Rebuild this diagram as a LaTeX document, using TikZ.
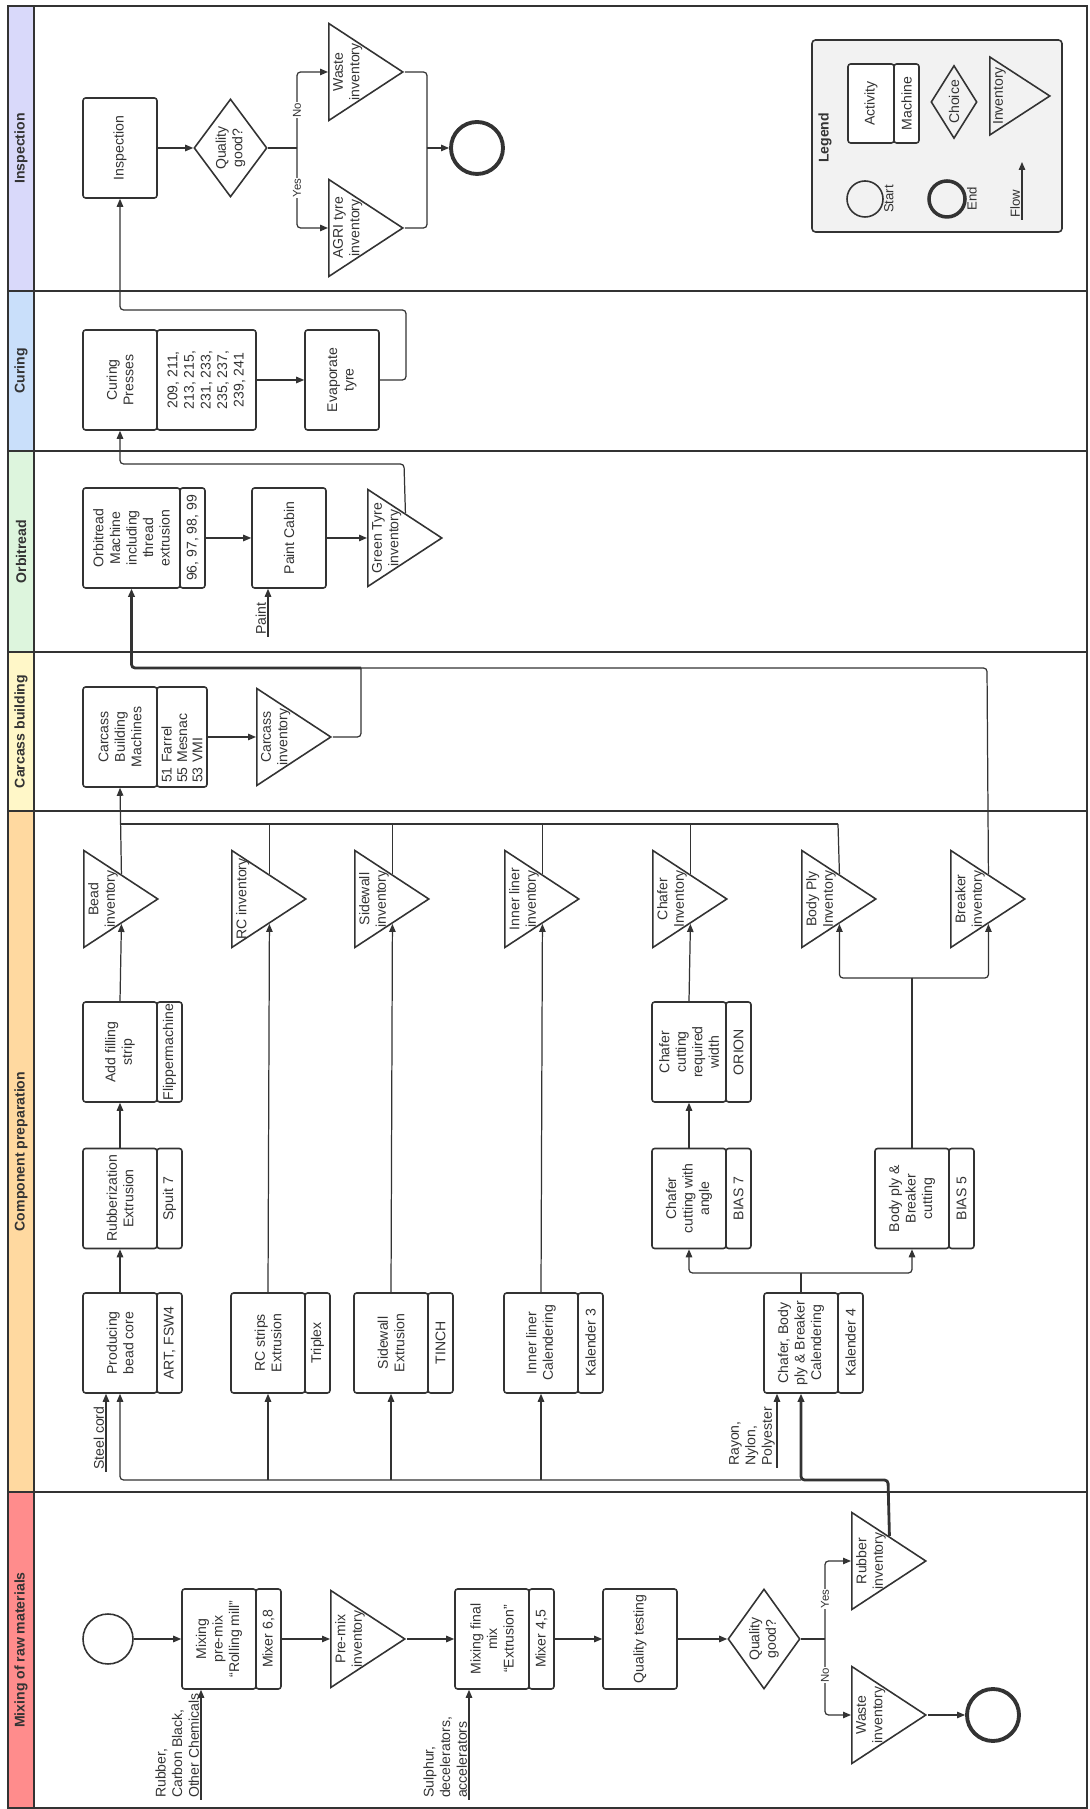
\documentclass[tikz,border=0pt]{standalone}
\usepackage{fontspec}
\setmainfont{Liberation Sans}
\usetikzlibrary{shapes.geometric,arrows.meta}

\definecolor{linecol}{HTML}{333333}
\definecolor{mixcol}{HTML}{FF8C8C}
\definecolor{compcol}{HTML}{FFD9A0}
\definecolor{carccol}{HTML}{FFF7C8}
\definecolor{orbcol}{HTML}{DDF5DD}
\definecolor{curcol}{HTML}{C9DFFA}
\definecolor{inspcol}{HTML}{D9D9FA}
\definecolor{legcol}{HTML}{F2F2F2}

\tikzset{
  lanebox/.style={draw=linecol, line width=0.8pt},
  headtext/.style={font=\fontsize{8}{9.4}\selectfont\bfseries},
  actbox/.style={draw=linecol, line width=0.9pt, rounded corners=1.5pt, fill=white,
    minimum width=20mm, minimum height=14.8mm, inner sep=1pt, align=center},
  machbox/.style={actbox, minimum height=5mm},
  invtri/.style={draw=linecol, line width=0.9pt, isosceles triangle,
    isosceles triangle stretches, shape border rotate=270,
    minimum width=19.4mm, minimum height=14.8mm, inner sep=0pt},
  invtext/.style={anchor=north, align=center, inner sep=1pt},
  choicebox/.style={draw=linecol, line width=0.9pt, diamond, aspect=1.4,
    minimum width=20mm, minimum height=14.4mm, inner sep=0pt, align=center},
  startcirc/.style={draw=linecol, line width=0.9pt, circle, minimum size=10mm},
  endcirc/.style={draw=linecol, line width=2.2pt, circle, minimum size=10.4mm},
  intext/.style={anchor=south west, align=left, inner sep=1pt},
  flowline/.style={draw=linecol, line width=0.7pt, rounded corners=2pt,
    -{Triangle[length=1.6mm,width=1.3mm]}},
  thickflow/.style={flowline, line width=1.6pt},
  plainline/.style={draw=linecol, line width=0.7pt, rounded corners=2pt},
  thickline/.style={plainline, line width=1.6pt},
  branchtext/.style={fill=white, inner sep=0.5pt, font=\fontsize{6.5}{7}\selectfont},
  smalltext/.style={inner sep=0pt, font=\fontsize{7.5}{8}\selectfont},
}

\begin{document}
\begin{tikzpicture}[font=\fontsize{8}{9.4}\selectfont, text=linecol]
\begin{scope}[rotate=90, transform shape, x=0.2mm, y=-0.2mm]
\useasboundingbox (0,0) rectangle (1809,1089);

% Lanes
\draw[lanebox] (1,8) rectangle (317,1087);
\draw[lanebox] (317,8) rectangle (998,1087);
\draw[lanebox] (998,8) rectangle (1157,1087);
\draw[lanebox] (1157,8) rectangle (1358,1087);
\draw[lanebox] (1358,8) rectangle (1518,1087);
\draw[lanebox] (1518,8) rectangle (1803,1087);
\draw[lanebox, fill=mixcol] (1,8) rectangle (317,34);
\draw[lanebox, fill=compcol] (317,8) rectangle (998,34);
\draw[lanebox, fill=carccol] (998,8) rectangle (1157,34);
\draw[lanebox, fill=orbcol] (1157,8) rectangle (1358,34);
\draw[lanebox, fill=curcol] (1358,8) rectangle (1518,34);
\draw[lanebox, fill=inspcol] (1518,8) rectangle (1803,34);
\node[headtext] (hmix) at (159,21) {Mixing of raw materials};
\node[headtext] (hcomp) at (657.5,21) {Component preparation};
\node[headtext] (hcarc) at (1077.5,21) {Carcass building};
\node[headtext] (horb) at (1257.5,21) {Orbitread};
\node[headtext] (hcur) at (1438,21) {Curing};
\node[headtext] (hinsp) at (1660.5,21) {Inspection};

% Mixing of raw materials
\node[startcirc] (mstart) at (170,108) {};
\node[actbox] (mpre) at (170,219) {Mixing\\pre-mix\\``Rolling mill''};
\node[machbox] (mpremach) at (170,268.5) {Mixer 6,8};
\node[invtri, anchor=lower side] (mpreinv) at (170,330) {};
\node[invtext] (mpreinvt) at (170,333) {Pre-mix\\inventory};
\node[actbox] (mfinal) at (170,492) {Mixing final\\mix\\``Extrusion''};
\node[machbox] (mfinalmach) at (170,541.5) {Mixer 4,5};
\node[actbox] (mtest) at (170,640) {Quality testing};
\node[choicebox] (mgood) at (170,764) {Quality\\good?};
\coordinate (mjunc) at (170,825);
\node[invtri, anchor=lower side] (mrubinv) at (248,851) {};
\node[invtext] (mrubinvt) at (248,854) {Rubber\\inventory};
\node[invtri, anchor=lower side] (mwasteinv) at (94,851) {};
\node[invtext] (mwasteinvt) at (94,854) {Waste\\inventory};
\node[endcirc] (mend) at (94,993) {};
\node[intext] (rubberin) at (9,201) {Rubber,\\Carbon Black,\\Other Chemicals};
\node[intext] (sulphurin) at (9,469) {Sulphur,\\decelerators,\\accelerators};

\draw[flowline] (mstart) -- (mpre);
\draw[flowline] (mpremach) -- (mpreinv.lower side);
\draw[flowline] (mpreinv.apex) -- (mfinal);
\draw[flowline] (mfinalmach) -- (mtest);
\draw[flowline] (mtest) -- (mgood);
\draw[plainline] (mgood.south) -- (mjunc);
\draw[flowline] (mjunc) -| (mrubinv.lower side);
\draw[flowline] (mjunc) -| (mwasteinv.lower side);
\draw[flowline] (mwasteinv.apex) -- (mend);
\draw[flowline] (rubberin.south west) -- (rubberin.south west -| mpre.west);
\draw[flowline] (sulphurin.south west) -- (sulphurin.south west -| mfinal.west);
\node[branchtext] (myes) at (210,825) {Yes};
\node[branchtext] (mno) at (134,825) {No};

% Component preparation
\node[actbox] (cbead) at (466,120) {Producing\\bead core};
\node[machbox] (cbeadmach) at (466,169.5) {ART, FSW4};
\node[actbox] (crub) at (610.5,120) {Rubberization\\Extrusion};
\node[machbox] (crubmach) at (610.5,169.5) {Spuit 7};
\node[actbox] (cfill) at (757,120) {Add filling\\strip};
\node[machbox] (cfillmach) at (757,169.5) {Flippermachine};
\node[invtri, anchor=lower side] (cbeadinv) at (910,83) {};
\node[invtext] (cbeadinvt) at (910,86) {Bead\\inventory};

\node[actbox] (crc) at (466,268) {RC strips\\Extrusion};
\node[machbox] (crcmach) at (466,317.5) {Triplex};
\node[invtri, anchor=lower side] (crcinv) at (910,231) {};
\node[invtext] (crcinvt) at (910,234) {RC inventory};

\node[actbox] (csw) at (466,391) {Sidewall\\Extrusion};
\node[machbox] (cswmach) at (466,440.5) {TINCH};
\node[invtri, anchor=lower side] (cswinv) at (910,354) {};
\node[invtext] (cswinvt) at (910,357) {Sidewall\\inventory};

\node[actbox] (cil) at (466,541) {Inner liner\\Calendering};
\node[machbox] (cilmach) at (466,590.5) {Kalender 3};
\node[invtri, anchor=lower side] (cilinv) at (910,504) {};
\node[invtext] (cilinvt) at (910,507) {Inner liner\\inventory};

\node[actbox] (cangle) at (610.5,689) {Chafer\\cutting with\\angle};
\node[machbox] (canglemach) at (610.5,738.5) {BIAS 7};
\node[actbox] (creq) at (757,689) {Chafer\\cutting\\required\\width};
\node[machbox] (creqmach) at (757,738.5) {ORION};
\node[invtri, anchor=lower side] (cchinv) at (910,652) {};
\node[invtext] (cchinvt) at (910,655) {Chafer\\Inventory};

\node[actbox] (ccal) at (466,801) {Chafer, Body\\ply \& Breaker\\Calendering};
\node[machbox] (ccalmach) at (466,850.5) {Kalender 4};
\node[actbox] (cbody) at (610.5,912) {Body ply \&\\Breaker\\cutting};
\node[machbox] (cbodymach) at (610.5,961.5) {BIAS 5};
\node[invtri, anchor=lower side] (cbpinv) at (910,801) {};
\node[invtext] (cbpinvt) at (910,804) {Body Ply\\Inventory};
\node[invtri, anchor=lower side] (cbrinv) at (910,950) {};
\node[invtext] (cbrinvt) at (910,953) {Breaker\\inventory};

\node[intext] (steelin) at (337,106) {Steel cord};
\node[intext] (rayonin) at (341,777) {Rayon,\\Nylon,\\Polyester};

\coordinate (rbA) at (329,888);
\coordinate (rbB) at (329,801);
\draw[thickflow] (mrubinv.left side) -- (rbA) -- (rbB) -- (ccal.west);
\draw[flowline] (rbB) |- (cbead.west);
\draw[flowline] (rbB |- crc.west) -- (crc.west);
\draw[flowline] (rbB |- csw.west) -- (csw.west);
\draw[flowline] (rbB |- cil.west) -- (cil.west);
\draw[flowline] (steelin.south west) -- (steelin.south west -| cbead.west);
\draw[flowline] (rayonin.south west) -- (rayonin.south west -| ccal.west);

\draw[flowline] (cbead) -- (crub);
\draw[flowline] (crub) -- (cfill);
\draw[flowline] (cfill.east) -- (cbeadinv.right side);
\draw[flowline] (crc.east) -- (crcinv.right side);
\draw[flowline] (csw.east) -- (cswinv.right side);
\draw[flowline] (cil.east) -- (cilinv.right side);
\draw[flowline] (cangle) -- (creq);
\draw[flowline] (creq.east) -- (cchinv.right side);
\coordinate (calsplit) at (536,801);
\draw[plainline] (ccal.east) -- (calsplit);
\draw[flowline] (calsplit) |- (cangle.west);
\draw[flowline] (calsplit) |- (cbody.west);
\coordinate (bodysplit) at (831,912);
\draw[plainline] (cbody.east) -- (bodysplit);
\draw[flowline] (bodysplit) |- (cbpinv.right side);
\draw[flowline] (bodysplit) |- (cbrinv.right side);

% Carcass building
\node[actbox] (kcbm) at (1072,120) {Carcass\\Building\\Machines};
\node[machbox, minimum height=10mm, text width=18.4mm, align=left,
  font=\fontsize{8}{8.8}\selectfont] (kcbmmach) at (1072,182) {51 Farrel\\55 Mesnac\\53 VMI};
\node[invtri, anchor=lower side] (kinv) at (1072,256) {};
\node[invtext] (kinvt) at (1072,259) {Carcass\\inventory};

\coordinate (coltop) at (985,120);
\coordinate (colbot) at (985,838);
\draw[flowline] (cbeadinv.left side) -- (kcbm.west);
\draw[thickline] (colbot) -- (coltop);
\draw[plainline] (crcinv.left side) -- (coltop |- crcinv.left side);
\draw[plainline] (cswinv.left side) -- (coltop |- cswinv.left side);
\draw[plainline] (cilinv.left side) -- (coltop |- cilinv.left side);
\draw[plainline] (cchinv.left side) -- (coltop |- cchinv.left side);
\draw[plainline] (cbpinv.left side) -- (colbot);

\draw[flowline] (kcbmmach) -- (kinv.lower side);
\coordinate (carcj) at (1141,361);
\coordinate (brk1) at (1141,987);
\draw[plainline] (kinv.apex) |- (carcj);
\draw[plainline] (cbrinv.left side) -- (brk1) -- (carcj);

% Orbitread
\node[actbox, minimum height=19.4mm] (korb) at (1271,131.5) {Orbitread\\Machine\\including\\thread\\extrusion};
\node[machbox] (korbmach) at (1271,192.5) {96, 97, 98, 99};
\node[actbox] (kpaint) at (1271,289) {Paint Cabin};
\node[intext] (paintin) at (1172,268) {Paint};
\node[invtri, anchor=lower side] (kgtinv) at (1271,367) {};
\node[invtext] (kgtinvt) at (1271,370) {Green Tyre\\inventory};
\draw[thickflow] (carcj) -- (carcj |- korb.west) -- (korb.west);
\draw[flowline] (korbmach) -- (kpaint);
\draw[flowline] (paintin.south west) -- (paintin.south west -| kpaint.west);
\draw[flowline] (kpaint) -- (kgtinv.lower side);
\coordinate (gtA) at (1345,404);

% Curing
\node[actbox] (ccure) at (1429,120) {Curing\\Presses};
\node[machbox, minimum height=19.8mm] (ccuremach) at (1429,206.5) {209, 211,\\213, 215,\\231, 233,\\235, 237,\\239, 241};
\node[actbox] (cevap) at (1429,342) {Evaporate\\tyre};
\draw[flowline] (kgtinv.left side) -- (gtA) -- (gtA |- ccure.west) -- (ccure.west);
\draw[flowline] (ccuremach) -- (cevap);
\coordinate (evA) at (1499,406);

% Inspection
\node[actbox] (iinsp) at (1661,120) {Inspection};
\node[choicebox, minimum width=19.6mm, minimum height=14.6mm] (igood) at (1661,230.5) {Quality\\good?};
\coordinate (ijunc) at (1661,297);
\node[invtri, anchor=lower side] (iwaste) at (1737,328) {};
\node[invtext] (iwastet) at (1737,331) {Waste\\inventory};
\node[invtri, anchor=lower side] (iagri) at (1581,328) {};
\node[invtext] (iagrit) at (1581,331) {AGRI tyre\\inventory};
\coordinate (imerge) at (1661,427);
\node[endcirc] (iend) at (1661,477) {};
\draw[flowline] (cevap.south) |- (evA) -- (evA |- iinsp.west) -- (iinsp.west);
\draw[flowline] (iinsp) -- (igood);
\draw[plainline] (igood.south) -- (ijunc);
\draw[flowline] (ijunc) -| (iwaste.lower side);
\draw[flowline] (ijunc) -| (iagri.lower side);
\draw[plainline] (iwaste.apex) |- (imerge);
\draw[plainline] (iagri.apex) |- (imerge);
\draw[flowline] (imerge) -- (iend);
\node[branchtext] (ino) at (1699,297) {No};
\node[branchtext] (iyes) at (1621,297) {Yes};

% Legend
\node[draw=linecol, line width=0.9pt, fill=legcol, rounded corners=2pt,
  minimum width=38.4mm, minimum height=50mm] (legend) at (1673,937) {};
\node[headtext] (legtitle) at (1671,825) {Legend};
\node[actbox, minimum width=15.8mm, minimum height=9.2mm] (lact) at (1705.5,871) {Activity};
\node[machbox, minimum width=15.8mm] (lmach) at (1705.5,906.5) {Machine};
\node[choicebox, fill=legcol, minimum width=14.6mm, minimum height=9.2mm, aspect=1.6] (lchoice) at (1707,954) {Choice};
\node[invtri, anchor=lower side, minimum width=15.6mm, minimum height=12mm] (linv) at (1713,989) {};
\node[invtext] (linvt) at (1713,991) {Inventory};
\node[startcirc, minimum size=7.2mm] (lstart) at (1610,865) {};
\node[smalltext, anchor=north] (lstartt) at (lstart.south) {Start};
\node[endcirc, minimum size=7.2mm, line width=2pt] (lend) at (1610,947) {};
\node[smalltext, anchor=north] (lendt) at (lend.south) {End};
\node[intext, font=\fontsize{7.5}{8}\selectfont] (lflow) at (1589,1022) {Flow};
\coordinate (lflowend) at (1647,1022);
\draw[flowline] (lflow.south west) -- (lflowend);

\end{scope}
\end{tikzpicture}
\end{document}
